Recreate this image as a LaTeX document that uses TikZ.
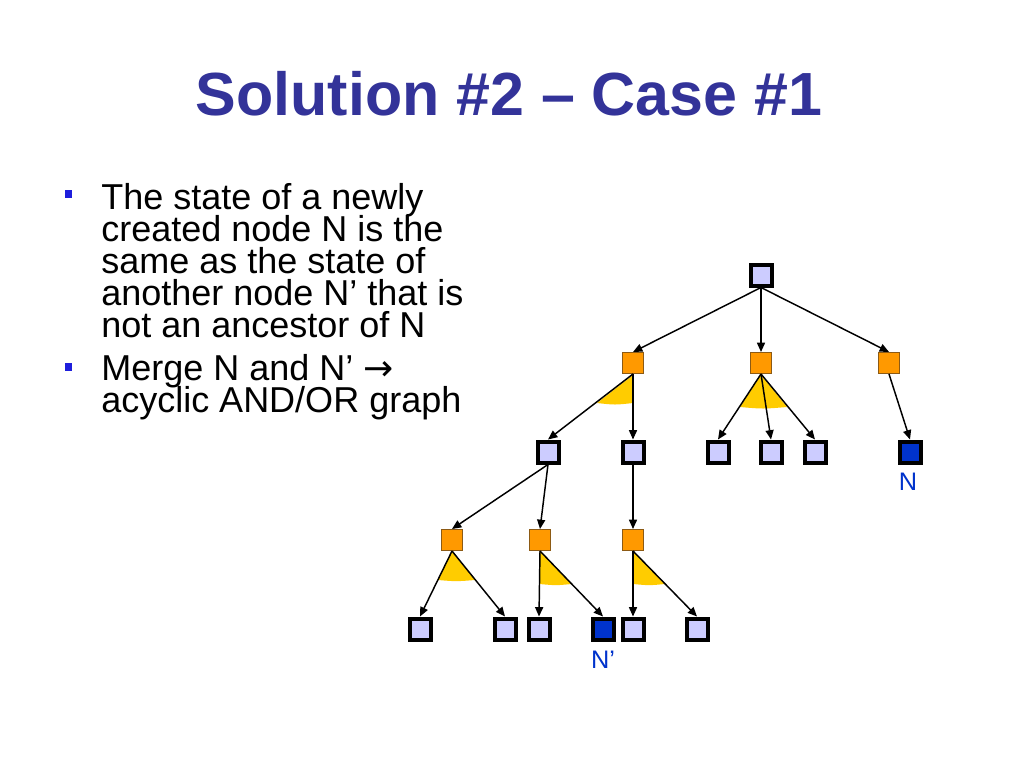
\documentclass[tikz,border=0pt]{standalone}
\usepackage{fontspec}
\setmainfont{Liberation Sans}
\newfontfamily\symfont{DejaVu Sans}
\usetikzlibrary{arrows.meta,calc}
\newcommand\mytightlines{\lineskiplimit=-100pt\relax\lineskip=0pt\relax}
\definecolor{titleblue}{RGB}{51,51,153}
\definecolor{bulletblue}{RGB}{30,30,220}
\definecolor{lav}{RGB}{204,204,255}
\definecolor{orangefill}{RGB}{255,153,0}
\definecolor{orangeedge}{RGB}{140,90,20}
\definecolor{wedge}{RGB}{255,204,0}
\definecolor{darkn}{RGB}{0,51,204}
\tikzset{
  ornode/.style={draw=black,line width=3pt,fill=lav,minimum size=15.75pt,inner sep=0pt,rectangle},
  marked/.style={ornode,fill=darkn},
  andnode/.style={draw=orangeedge,line width=0.75pt,fill=orangefill,minimum size=15.75pt,inner sep=0pt,rectangle},
  edge/.style={line width=1.1pt,-{Triangle[length=7pt,width=6pt]}},
  bodytext/.style={anchor=base west,inner sep=0pt,align=left,font=\fontsize{27pt}{24pt}\selectfont\mytightlines},
  bulletsq/.style={fill=bulletblue,minimum width=5.5pt,minimum height=6.3pt,inner sep=0pt,rectangle},
  nlabel/.style={text=darkn,inner sep=0pt,anchor=base,font=\fontsize{19pt}{19pt}\selectfont}
}
\begin{document}
\begin{tikzpicture}[x=0.75pt,y=-0.75pt]
\useasboundingbox (0,0) rectangle (1024,768);
\fill[white] (0,0) rectangle (1024,768);
% title
\node[anchor=base,inner sep=0pt,text=titleblue,font=\fontsize{45.7pt}{46pt}\selectfont\bfseries] (title) at (509,115) {Solution \#2 – Case \#1};
% bullets
\node[bulletsq] (b1) at (68.5,194) {};
\node[bulletsq] (b2) at (68.5,367) {};
% base anchor of a multi-line node = baseline of its last line
\node[bodytext] (t1) at (101,337) {The state of a newly\\created node N is the\\same as the state of\\another node N’ that is\\not an ancestor of N};
\node[bodytext] (t2) at (101,412) {Merge N and N’ {\symfont →}\\acyclic AND/OR graph};
% wedges
\fill[wedge] (633,375) -- (597,403) .. controls (615,405) .. (633,403) -- cycle;
\fill[wedge] (761,375) -- (740,407) .. controls (763,409) .. (787,407) -- cycle;
\fill[wedge] (452,551) -- (438,580) .. controls (456,581.5) .. (475,580) -- cycle;
\fill[wedge] (540,551) -- (539.5,584) .. controls (556,585.5) .. (571.5,584) -- cycle;
\fill[wedge] (633,551) -- (633,584) .. controls (649,585.5) .. (665,584) -- cycle;
% nodes
\node[ornode] (root) at (761,275) {};
\node[andnode] (a1) at (633,363) {};
\node[andnode] (a2) at (761,363) {};
\node[andnode] (a3) at (889,363) {};
\node[ornode] (o1) at (548,452) {};
\node[ornode] (o2) at (633,452) {};
\node[ornode] (o3) at (718,452) {};
\node[ornode] (o4) at (771,452) {};
\node[ornode] (o5) at (815,452) {};
\node[marked] (n) at (910,452) {};
\node[andnode] (b31) at (452,540) {};
\node[andnode] (b32) at (540,540) {};
\node[andnode] (b33) at (633,540) {};
\node[ornode] (p1) at (420,629) {};
\node[ornode] (p2) at (505,629) {};
\node[ornode] (p3) at (539,629) {};
\node[marked] (np) at (603,629) {};
\node[ornode] (p5) at (633,629) {};
\node[ornode] (p6) at (697,629) {};
\node[nlabel] (nl) at (908,490) {N};
\node[nlabel] (npl) at (603,668) {N’};
% edges
\draw[edge] (root.south) -- (a1.north);
\draw[edge] (root.south) -- (a2.north);
\draw[edge] (root.south) -- (a3.north);
\draw[edge] (a1.south) -- (o1.north);
\draw[edge] (a1.south) -- (o2.north);
\draw[edge] (a2.south) -- (o3.north);
\draw[edge] (a2.south) -- (o4.north);
\draw[edge] (a2.south) -- (o5.north);
\draw[edge] (a3.south) -- (n.north);
\draw[edge] (o1.south) -- (b31.north);
\draw[edge] (o1.south) -- (b32.north);
\draw[edge] (o2.south) -- (b33.north);
\draw[edge] (b31.south) -- (p1.north);
\draw[edge] (b31.south) -- (p2.north);
\draw[edge] (b32.south) -- (p3.north);
\draw[edge] (b32.south) -- (np.north);
\draw[edge] (b33.south) -- (p5.north);
\draw[edge] (b33.south) -- (p6.north);
\end{tikzpicture}
\end{document}
